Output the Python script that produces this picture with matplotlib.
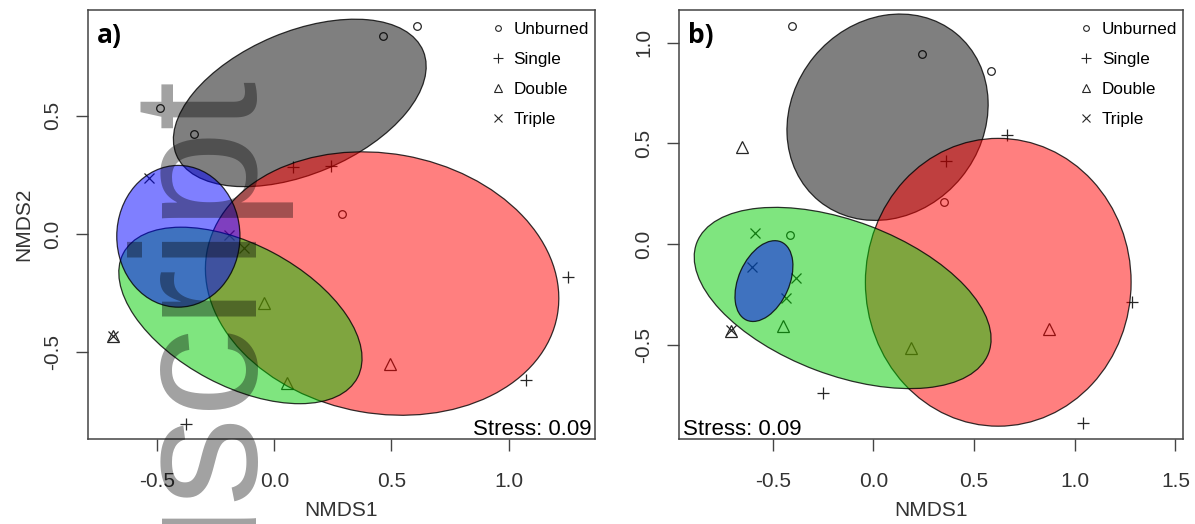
import matplotlib

matplotlib.use("Agg")
import matplotlib.pyplot as plt
from matplotlib.lines import Line2D
from matplotlib.patches import Ellipse

plt.rcParams["font.family"] = ["Liberation Sans", "DejaVu Sans"]
plt.rcParams["axes.unicode_minus"] = False

GROUPS = ["Unburned", "Single", "Double", "Triple"]

# panel a) site scores (NMDS1, NMDS2)
A_UNBURNED_X = [0.611, 0.464, -0.487, -0.345, 0.290]
A_UNBURNED_Y = [0.882, 0.836, 0.534, 0.421, 0.085]
A_SINGLE_X = [0.080, 0.241, 1.254, 1.073, -0.377]
A_SINGLE_Y = [0.283, 0.288, -0.181, -0.620, -0.805]
A_DOUBLE_X = [-0.045, 0.493, 0.052, -0.690]
A_DOUBLE_Y = [-0.294, -0.552, -0.630, -0.434]
A_TRIPLE_X = [-0.535, -0.192, -0.128, -0.690]
A_TRIPLE_Y = [0.238, -0.005, -0.060, -0.430]

# panel b) site scores
B_UNBURNED_X = [-0.406, 0.242, 0.585, 0.349, -0.414]
B_UNBURNED_Y = [1.083, 0.944, 0.860, 0.208, 0.044]
B_SINGLE_X = [0.664, 0.358, 1.283, -0.249, 1.042]
B_SINGLE_Y = [0.543, 0.415, -0.286, -0.739, -0.889]
B_DOUBLE_X = [-0.651, -0.447, 0.189, 0.872, -0.709]
B_DOUBLE_Y = [0.482, -0.409, -0.515, -0.424, -0.430]
B_TRIPLE_X = [-0.590, -0.604, -0.385, -0.432, -0.709]
B_TRIPLE_Y = [0.053, -0.115, -0.167, -0.266, -0.426]

# group ellipses (order of GROUPS): centre, full width/height, rotation in degrees
A_ELL_CX = [0.1085, 0.460, -0.145, -0.410]
A_ELL_CY = [0.5545, -0.210, -0.345, -0.010]
A_ELL_W = [1.142, 1.520, 1.130, 0.526]
A_ELL_H = [0.603, 1.100, 0.600, 0.600]
A_ELL_ANGLE = [22.6, -10.0, -27.7, 0.0]

B_ELL_CX = [0.070, 0.620, -0.153, -0.544]
B_ELL_CY = [0.630, -0.190, -0.268, -0.184]
B_ELL_W = [1.075, 1.320, 1.550, 0.425]
B_ELL_H = [0.946, 1.430, 0.764, 0.252]
B_ELL_ANGLE = [50.8, 0.0, -20.7, 66.0]

STRESS = [0.09, 0.09]

MARKERS = {"Unburned": "o", "Single": "+", "Double": "^", "Triple": "x"}
MSIZE = {"Unburned": 5.5, "Single": 9.0, "Double": 8.0, "Triple": 7.0}
FILL = {"Unburned": "black", "Single": "red", "Double": "#00cc00", "Triple": "blue"}
INK = "#262626"


def draw_panel(ax, xs, ys, ell, xlim, ylim, xticks, yticks, tag, stress, stress_left):
    # points first, the translucent ellipses go on top of them
    for g in GROUPS:
        ax.plot(xs[g], ys[g], linestyle="none", marker=MARKERS[g], markersize=MSIZE[g],
                markerfacecolor="none", markeredgecolor=INK, markeredgewidth=0.9, zorder=1)

    cx, cy, w, h, ang = ell
    for i, g in enumerate(GROUPS):
        ax.add_patch(Ellipse((cx[i], cy[i]), w[i], h[i], angle=ang[i],
                             facecolor=matplotlib.colors.to_rgba(FILL[g], 0.5),
                             edgecolor=(0, 0, 0, 0.8), linewidth=0.9, zorder=2))

    ax.set_xlim(*xlim)
    ax.set_ylim(*ylim)
    ax.set_xticks(xticks)
    ax.set_yticks(yticks)
    ax.set_xticklabels([f"{v:.1f}" for v in xticks])
    ax.set_yticklabels([f"{v:.1f}" for v in yticks], rotation=90, va="center")
    ax.tick_params(axis="both", direction="out", length=8.5, width=1.0, color="#444444",
                   labelsize=15, labelcolor="#333333")
    ax.tick_params(axis="x", pad=15)
    ax.tick_params(axis="y", pad=10)
    for sp in ax.spines.values():
        sp.set_color("#444444")
        sp.set_linewidth(1.1)
    ax.set_xlabel("NMDS1", fontsize=15, color="#333333", labelpad=7)

    handles = [Line2D([], [], linestyle="none", marker=MARKERS[g], markersize=MSIZE[g] * 0.75,
                      markerfacecolor="none", markeredgecolor=INK, markeredgewidth=0.8)
               for g in GROUPS]
    ax.legend(handles, GROUPS, loc="upper right", bbox_to_anchor=(1.0, 0.986),
              frameon=False, fontsize=12.3, handlelength=0.8, handletextpad=0.5,
              labelspacing=0.87, borderaxespad=0.15, borderpad=0.2)

    ax.text(0.017, 0.972, tag, transform=ax.transAxes, ha="left", va="top",
            fontsize=19, fontweight="bold", family=["Open Sans", "DejaVu Sans"], zorder=5)
    if stress_left:
        ax.text(0.008, 0.011, f"Stress: {stress:.2f}", transform=ax.transAxes,
                ha="left", va="baseline", fontsize=16, zorder=5)
    else:
        ax.text(0.994, 0.011, f"Stress: {stress:.2f}", transform=ax.transAxes,
                ha="right", va="baseline", fontsize=16, zorder=5)


fig = plt.figure(figsize=(11.95, 5.24), dpi=100)
ax_a = fig.add_axes([0.0736, 0.1613, 0.4243, 0.8197])
ax_b = fig.add_axes([0.5682, 0.1613, 0.4218, 0.8197])

draw_panel(
    ax_a,
    {"Unburned": A_UNBURNED_X, "Single": A_SINGLE_X, "Double": A_DOUBLE_X, "Triple": A_TRIPLE_X},
    {"Unburned": A_UNBURNED_Y, "Single": A_SINGLE_Y, "Double": A_DOUBLE_Y, "Triple": A_TRIPLE_Y},
    (A_ELL_CX, A_ELL_CY, A_ELL_W, A_ELL_H, A_ELL_ANGLE),
    (-0.796, 1.369), (-0.870, 0.948),
    [-0.5, 0.0, 0.5, 1.0], [-0.5, 0.0, 0.5],
    "a)", STRESS[0], stress_left=False,
)
ax_a.set_ylabel("NMDS2", fontsize=15, color="#333333", labelpad=7)

draw_panel(
    ax_b,
    {"Unburned": B_UNBURNED_X, "Single": B_SINGLE_X, "Double": B_DOUBLE_X, "Triple": B_TRIPLE_X},
    {"Unburned": B_UNBURNED_Y, "Single": B_SINGLE_Y, "Double": B_DOUBLE_Y, "Triple": B_TRIPLE_Y},
    (B_ELL_CX, B_ELL_CY, B_ELL_W, B_ELL_H, B_ELL_ANGLE),
    (-0.966, 1.538), (-0.971, 1.163),
    [-0.5, 0.0, 0.5, 1.0, 1.5], [-0.5, 0.0, 0.5, 1.0],
    "b)", STRESS[1], stress_left=True,
)

# repository watermark running up the left panel
fig.text(242 / 1195, 1 - 66 / 524, "Manuscript", rotation=90, rotation_mode="anchor",
         ha="right", va="baseline", fontsize=128, color="black", alpha=0.37, zorder=10)

fig.savefig("out.png", dpi=100)
